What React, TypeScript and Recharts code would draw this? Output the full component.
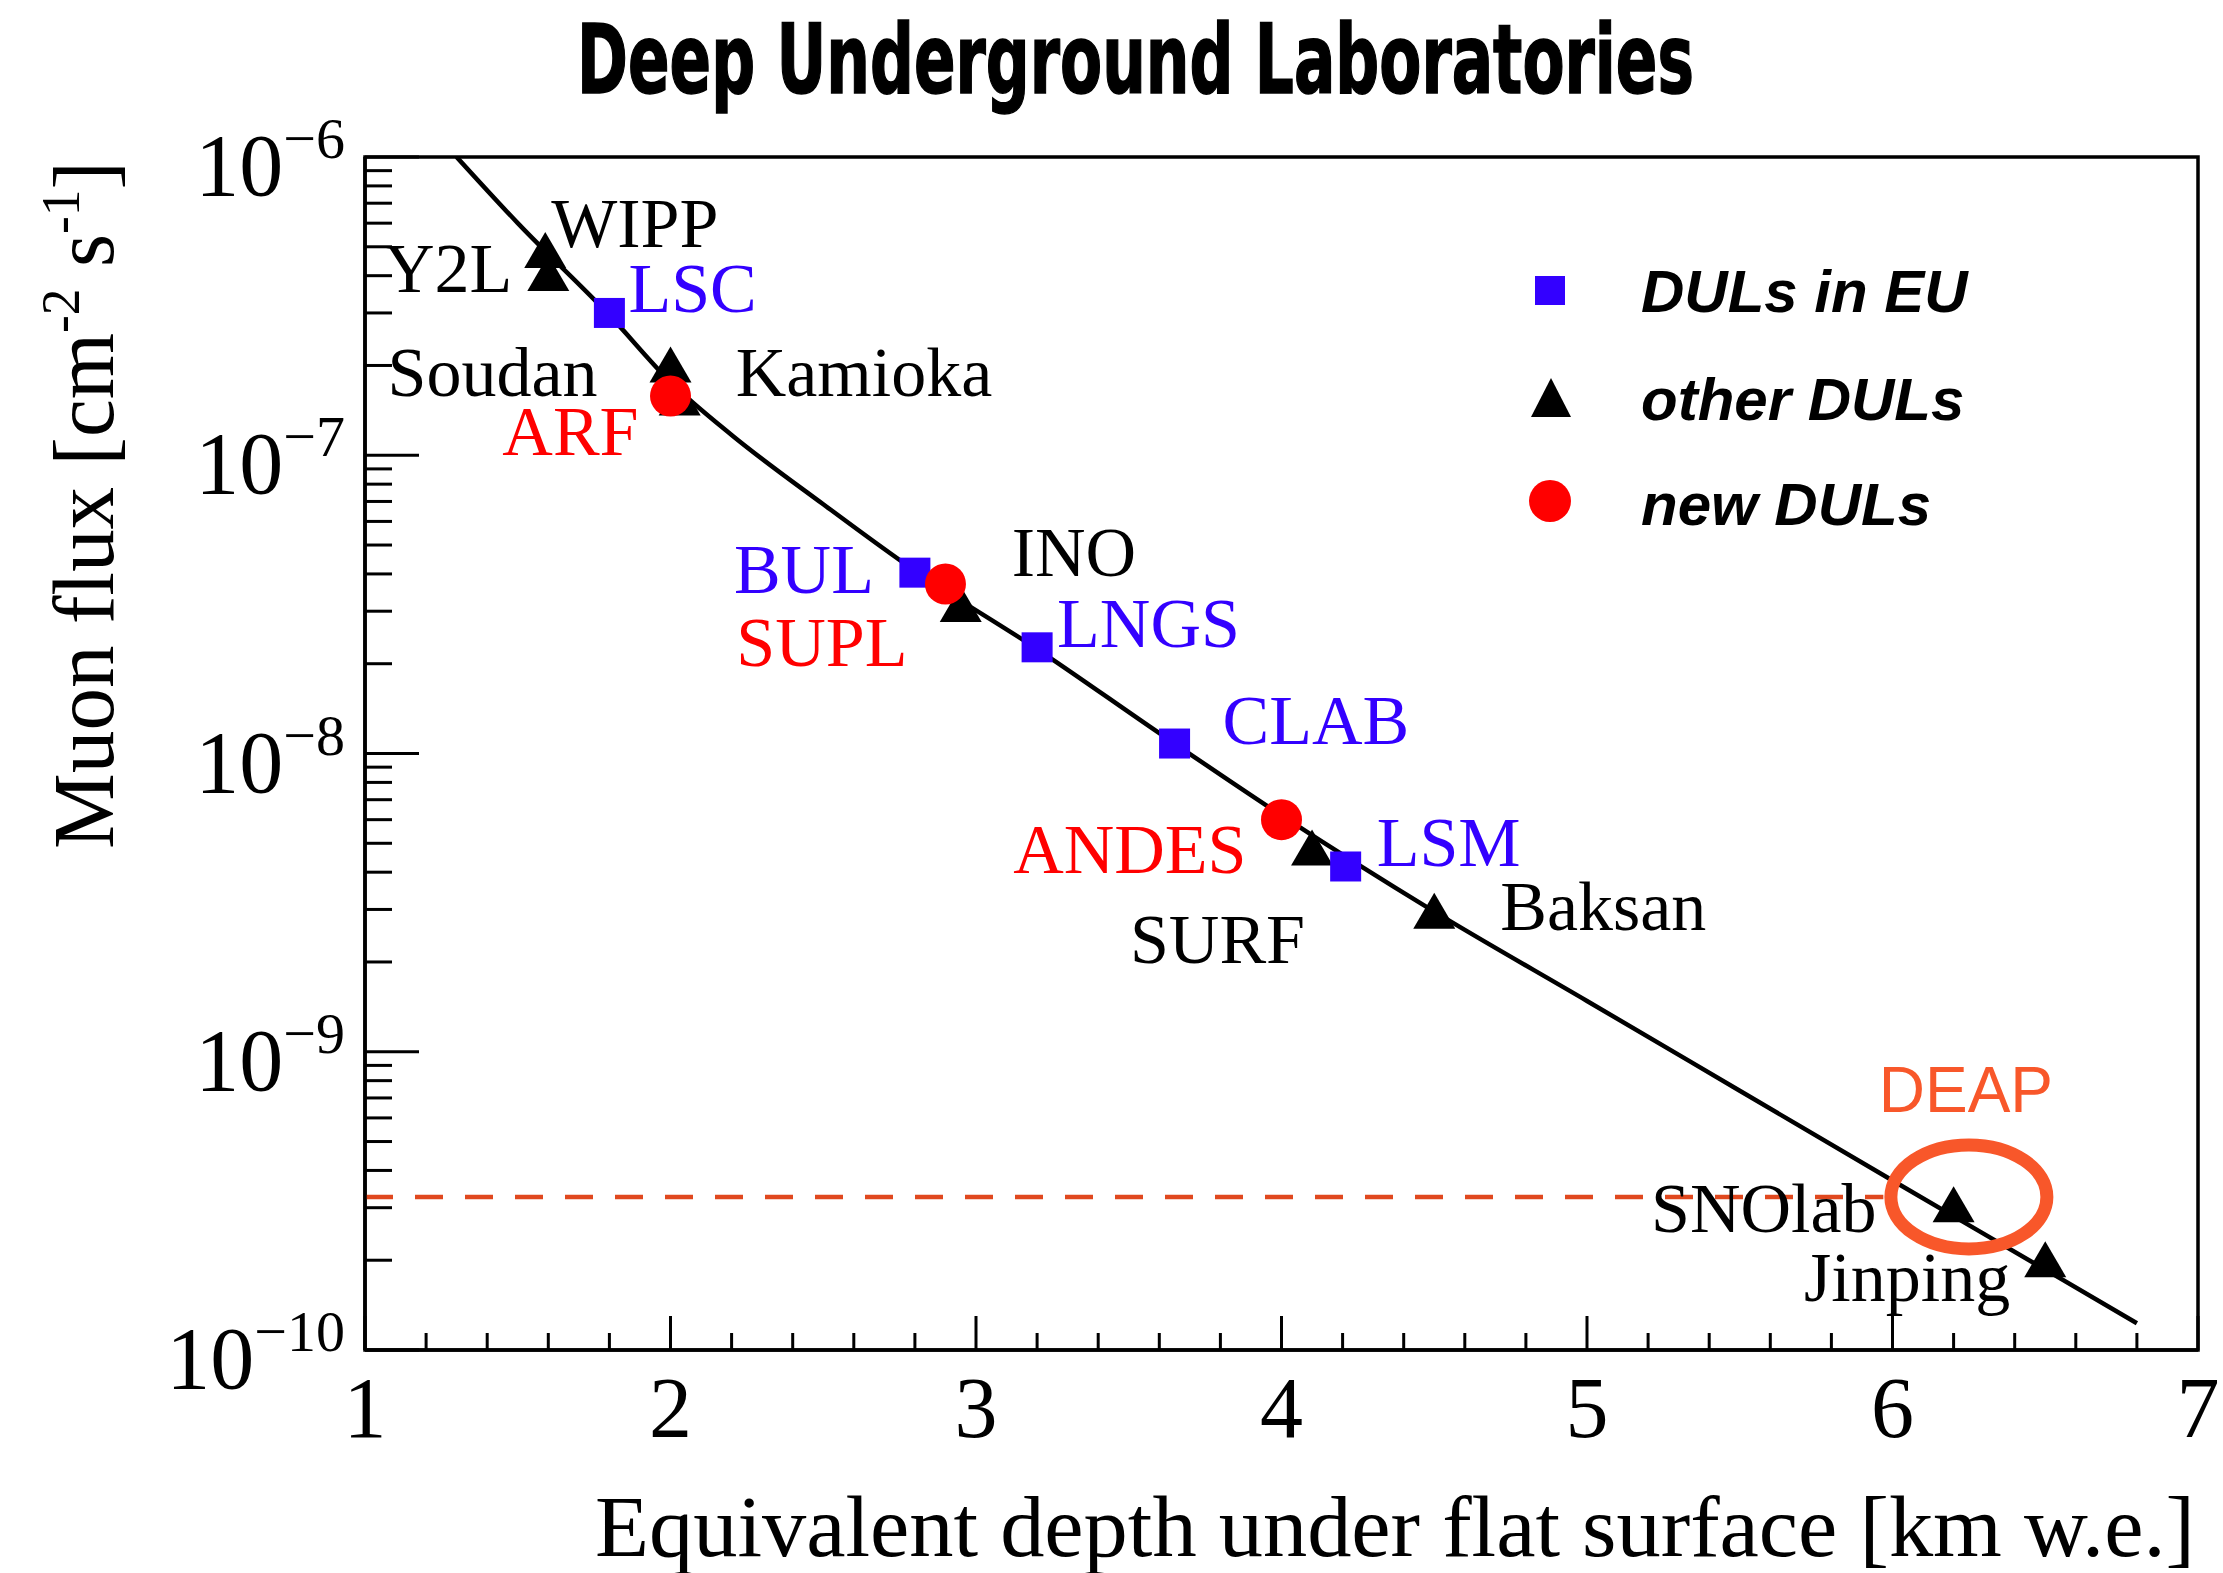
import React from 'react';
import {
  ComposedChart,
  Line,
  Scatter,
  XAxis,
  YAxis,
  ReferenceLine,
  ReferenceDot,
  ReferenceArea,
  Legend,
} from 'recharts';

// ---------------- data ----------------
// muon flux curve (depth in km w.e., flux in cm^-2 s^-1)
const curveDepth = [1.3, 1.5, 1.8, 2.0, 2.2, 2.5, 2.8, 3.2, 3.6, 4.0, 4.5, 5.0, 5.5, 6.0, 6.5, 6.8];
const curveFlux = [1.0e-6, 6.0e-7, 2.95e-7, 1.76e-7, 1.17e-7, 6.85e-8, 4.1e-8, 2.24e-8, 1.17e-8, 6.2e-9, 2.95e-9, 1.48e-9, 7.4e-10, 3.7e-10, 1.86e-10, 1.23e-10];

// DULs in EU
const euNames = ['LSC', 'BUL', 'LNGS', 'CLAB', 'LSM'];
const euDepth = [1.8, 2.8, 3.2, 3.65, 4.21];
const euFlux = [3.0e-7, 4.04e-8, 2.27e-8, 1.08e-8, 4.18e-9];

// other DULs
const otherNames = ['WIPP', 'Y2L', 'Soudan', 'Kamioka', 'INO', 'SURF', 'Baksan', 'SNOlab', 'Jinping'];
const otherDepth = [1.59, 1.6, 2.0, 2.03, 2.95, 4.1, 4.5, 6.2, 6.5];
const otherFlux = [4.84e-7, 4.05e-7, 2.0e-7, 1.55e-7, 3.15e-8, 4.8e-9, 2.95e-9, 3.06e-10, 2.0e-10];

// new DULs
const newNames = ['ARF', 'SUPL', 'ANDES'];
const newDepth = [2.0, 2.9, 4.0];
const newFlux = [1.58e-7, 3.7e-8, 6.0e-9];

// DEAP annotation level
const deapFlux = 3.26e-10;
const deapDepth = 6.25;
const deapLineEnd = 5.97;

// axes
const xMajorTicks = [1, 2, 3, 4, 5, 6, 7];
const xMinorSteps = [0.2, 0.4, 0.6, 0.8];
const yMajorTicks = [1e-10, 1e-9, 1e-8, 1e-7, 1e-6];
const yMinorMultipliers = [2, 3, 4, 5, 6, 7, 8, 9];

const legendLabels = ['DULs in EU', 'other DULs', 'new DULs'];
const titleText = 'Deep Underground Laboratories';
const xTitle = 'Equivalent depth under flat surface [km w.e.]';

// ---------------- layout / style (not data) ----------------
const W = 2223;
const H = 1573;
const SERIF = '"Liberation Serif", "Times New Roman", Times, serif';
const SANS = '"Liberation Sans", Arial, Helvetica, sans-serif';
const BLUE = '#3300ff';
const RED = '#ff0000';
const ORANGE = '#f8572a';
const DASH = '#e0481e';

const labelLayout: Record<string, { dx: number; dy: number; anchor: 'start' | 'end' }> = {
  WIPP: { dx: 6, dy: -4, anchor: 'start' },
  Y2L: { dx: -36, dy: 18, anchor: 'end' },
  LSC: { dx: 19, dy: -1, anchor: 'start' },
  Soudan: { dx: -73, dy: 31, anchor: 'end' },
  ARF: { dx: -32, dy: 59, anchor: 'end' },
  Kamioka: { dx: 56, dy: -2, anchor: 'start' },
  BUL: { dx: -41, dy: 20, anchor: 'end' },
  SUPL: { dx: -38, dy: 82, anchor: 'end' },
  INO: { dx: 51, dy: -29, anchor: 'start' },
  LNGS: { dx: 20, dy: 0, anchor: 'start' },
  CLAB: { dx: 48, dy: 0, anchor: 'start' },
  ANDES: { dx: -35, dy: 53, anchor: 'end' },
  SURF: { dx: -7, dy: 114, anchor: 'end' },
  LSM: { dx: 31, dy: 0, anchor: 'start' },
  Baksan: { dx: 66, dy: 18, anchor: 'start' },
  SNOlab: { dx: -77, dy: 27, anchor: 'end' },
  Jinping: { dx: -35, dy: 41, anchor: 'end' },
};

const toPoints = (names: string[] | null, xs: number[], ys: number[]) =>
  xs.map((x, i) => ({ name: names ? names[i] : String(i), x, y: ys[i] }));

const curveData = toPoints(null, curveDepth, curveFlux);
const euData = toPoints(euNames, euDepth, euFlux);
const otherData = toPoints(otherNames, otherDepth, otherFlux);
const newData = toPoints(newNames, newDepth, newFlux);

const xTicks: number[] = [];
xMajorTicks.forEach((t, i) => {
  xTicks.push(t);
  if (i < xMajorTicks.length - 1) xMinorSteps.forEach((s) => xTicks.push(+(t + s).toFixed(3)));
});
const yTicks: number[] = [];
yMajorTicks.forEach((t, i) => {
  yTicks.push(t);
  if (i < yMajorTicks.length - 1) yMinorMultipliers.forEach((m) => yTicks.push(m * t));
});

// ---------------- pieces ----------------
const PointLabel = ({ cx, cy, name, color }: { cx: number; cy: number; name: string; color: string }) => {
  const l = labelLayout[name];
  if (!l) return null;
  return (
    <text x={cx + l.dx} y={cy + l.dy} textAnchor={l.anchor} fontFamily={SERIF} fontSize={70} fill={color}>
      {name}
    </text>
  );
};

const getName = (p: any) => (p && p.payload && p.payload.name) || p.name;

const SquareShape = (p: any) => (
  <g>
    <rect x={p.cx - 15.5} y={p.cy - 15} width={31} height={30} fill={BLUE} />
    <PointLabel cx={p.cx} cy={p.cy} name={getName(p)} color={BLUE} />
  </g>
);

const TriangleShape = (p: any) => (
  <g>
    <polygon
      points={`${p.cx},${p.cy - 19} ${p.cx + 21},${p.cy + 17} ${p.cx - 21},${p.cy + 17}`}
      fill="#000"
    />
    <PointLabel cx={p.cx} cy={p.cy} name={getName(p)} color="#000" />
  </g>
);

const CircleShape = (p: any) => (
  <g>
    <circle cx={p.cx} cy={p.cy} r={20.5} fill={RED} />
    <PointLabel cx={p.cx} cy={p.cy} name={getName(p)} color={RED} />
  </g>
);

const XTick = (props: any) => {
  const { x, y, payload } = props;
  const v = Number(payload.value);
  const major = Math.abs(v - Math.round(v)) < 1e-6;
  return (
    <g>
      <line x1={x} x2={x} y1={y} y2={y - (major ? 34 : 17)} stroke="#000" strokeWidth={3} />
      {major && (
        <text x={x} y={y + 87} textAnchor="middle" fontFamily={SERIF} fontSize={86} fill="#000">
          {Math.round(v)}
        </text>
      )}
    </g>
  );
};

const YTick = (props: any) => {
  const { x, y, payload } = props;
  const v = Number(payload.value);
  const e = Math.log10(v);
  const major = Math.abs(e - Math.round(e)) < 1e-6;
  return (
    <g>
      <line x1={x} x2={x + (major ? 54 : 27)} y1={y} y2={y} stroke="#000" strokeWidth={3} />
      {major && (
        <text x={x - 20} y={y + 38} textAnchor="end" fontFamily={SERIF} fontSize={88} fill="#000">
          10
          <tspan fontSize={58} dy={-37}>
            {'\u2212' + Math.abs(Math.round(e))}
          </tspan>
        </text>
      )}
    </g>
  );
};

const XTitle = (props: any) => {
  const vb = props.viewBox || { x: 365, y: 1350, width: 1833, height: 223 };
  return (
    <text
      x={vb.x + vb.width - 3}
      y={vb.y + 206}
      textAnchor="end"
      fontFamily={SERIF}
      fontSize={86}
      fill="#000"
      textLength={1600}
      lengthAdjust="spacingAndGlyphs"
    >
      {xTitle}
    </text>
  );
};

const YTitle = (props: any) => {
  const vb = props.viewBox || { x: 0, y: 157, width: 365, height: 1193 };
  return (
    <text
      transform={`translate(${vb.x + 113}, ${vb.y + 4}) rotate(-90)`}
      textAnchor="end"
      fontFamily={SERIF}
      fontSize={86}
      fill="#000"
      textLength={688}
      lengthAdjust="spacingAndGlyphs"
    >
      Muon flux [cm
      <tspan fontSize={54} dy={-34}>-2</tspan>
      <tspan dy={34}> s</tspan>
      <tspan fontSize={54} dy={-34}>-1</tspan>
      <tspan dy={34}>]</tspan>
    </text>
  );
};

const DeapShape = (p: any) => (
  <g>
    <ellipse cx={p.cx} cy={p.cy} rx={78} ry={52} fill="none" stroke={ORANGE} strokeWidth={13} />
    <text x={p.cx - 3} y={p.cy - 85} textAnchor="middle" fontFamily={SANS} fontSize={64} fill={ORANGE}>
      DEAP
    </text>
  </g>
);

const LegendBox = () => (
  <svg width={620} height={330} style={{ display: 'block', overflow: 'visible' }}>
    <rect x={45} y={46} width={30} height={29} fill={BLUE} />
    <polygon points="61,148 81,187 41,187" fill="#000" />
    <circle cx={60} cy={271} r={21} fill={RED} />
    {legendLabels.map((t, i) => (
      <text
        key={t}
        x={151}
        y={[82, 190, 295][i]}
        fontFamily={SANS}
        fontSize={60}
        fontWeight={700}
        fontStyle="italic"
        fill="#000"
      >
        {t}
      </text>
    ))}
  </svg>
);

export default function App() {
  return (
    <div style={{ position: 'absolute', left: 0, top: 0, width: W, height: H, background: '#fff' }}>
      <svg
        width={W}
        height={140}
        style={{ position: 'absolute', left: 0, top: 0, pointerEvents: 'none', zIndex: 2 }}
      >
        <text
          x={1135.5}
          y={93}
          textAnchor="middle"
          fontFamily='"Liberation Sans Narrow", "DejaVu Sans Condensed", "Liberation Sans", sans-serif'
          fontSize={96}
          fontWeight={700}
          fill="#000"
          stroke="#000"
          strokeWidth={1.5}
          textLength={1117}
          lengthAdjust="spacingAndGlyphs"
        >
          {titleText}
        </text>
      </svg>
      <ComposedChart width={W} height={H} margin={{ top: 157, right: 25, bottom: 0, left: 0 }}>
        <XAxis
          dataKey="x"
          type="number"
          domain={[1, 7]}
          ticks={xTicks}
          interval={0}
          allowDataOverflow
          height={223}
          tickSize={0}
          tickMargin={0}
          tickLine={false}
          axisLine={{ stroke: '#000', strokeWidth: 3.5 }}
          tick={(p: any) => <XTick {...p} />}
          label={{ content: (p: any) => <XTitle {...p} /> }}
        />
        <YAxis
          dataKey="y"
          type="number"
          scale="log"
          domain={[1e-10, 1e-6]}
          ticks={yTicks}
          interval={0}
          allowDataOverflow
          width={365}
          tickSize={0}
          tickMargin={0}
          tickLine={false}
          axisLine={{ stroke: '#000', strokeWidth: 3.5 }}
          tick={(p: any) => <YTick {...p} />}
          label={{ content: (p: any) => <YTitle {...p} /> }}
        />
        <ReferenceArea
          x1={1}
          x2={7}
          y1={1e-10}
          y2={1e-6}
          fill="none"
          fillOpacity={0}
          stroke="#000"
          strokeWidth={3.5}
          ifOverflow="visible"
        />
        <ReferenceLine
          segment={[
            { x: 1, y: deapFlux },
            { x: deapLineEnd, y: deapFlux },
          ]}
          stroke={DASH}
          strokeWidth={4.5}
          strokeDasharray="28 22"
          ifOverflow="visible"
        />
        <Line
          data={curveData}
          dataKey="y"
          type="monotone"
          stroke="#000"
          strokeWidth={4.5}
          dot={false}
          activeDot={false}
          isAnimationActive={false}
          legendType="none"
        />
        <Scatter data={otherData} dataKey="y" shape={TriangleShape} isAnimationActive={false} />
        <Scatter data={euData} dataKey="y" shape={SquareShape} isAnimationActive={false} />
        <Scatter data={newData} dataKey="y" shape={CircleShape} isAnimationActive={false} />
        <ReferenceDot x={deapDepth} y={deapFlux} shape={DeapShape} ifOverflow="visible" />
        <Legend
          layout="vertical"
          align="center"
          verticalAlign="middle"
          wrapperStyle={{ position: 'absolute', left: 1490, top: 230, width: 620, height: 330, margin: 0, padding: 0 }}
          content={() => <LegendBox />}
        />
      </ComposedChart>
    </div>
  );
}
